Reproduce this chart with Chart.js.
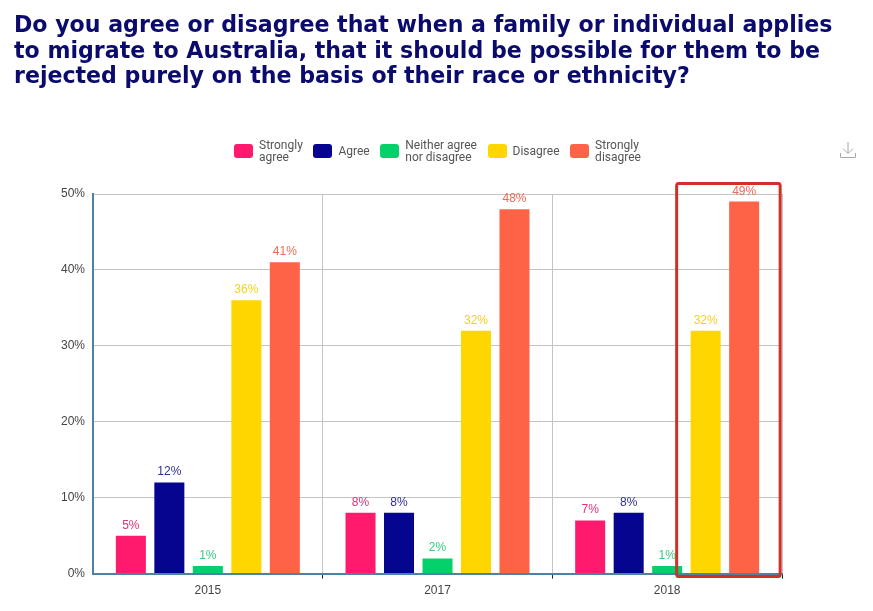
<!DOCTYPE html>
<html>
<head>
<meta charset="utf-8">
<title>Race or ethnicity</title>
<script src="https://cdn.jsdelivr.net/npm/chart.js@4"></script>
<style>
  html, body { margin: 0; padding: 0; background: #fff; width: 873px; height: 611px; overflow: hidden; }
  h1 { position: absolute; left: 14px; top: 12px; width: 850px; margin: 0; font: bold 22.1px/25.7px "DejaVu Sans", sans-serif; color: #0b0b6e; }
  #wrap { position: absolute; left: 0; top: 0; width: 873px; height: 611px; }
  #dl { position: absolute; left: 839px; top: 141px; }
  #legend { position: absolute; left: 234px; top: 139px; height: 24px; display: flex; align-items: center; font: 12px/12px Roboto, sans-serif; color: #555; }
  #legend .item { display: flex; align-items: center; margin-right: 10.6px; white-space: nowrap; }
  #legend .box { width: 19px; height: 14px; border-radius: 3px; margin-right: 6px; }
</style>
</head>
<body>
<div id="wrap"><canvas id="chart" width="873" height="611"></canvas></div>
<h1>Do you agree or disagree that when a family or individual applies to migrate to Australia, that it should be possible for them to be rejected purely on the basis of their race or ethnicity?</h1>
<div id="legend"></div>
<svg id="dl" width="18" height="18" viewBox="0 0 18 18" fill="none" stroke="#a8a8a8" stroke-width="1">
  <path d="M9 1V12M4 7.5L9 12.5L14 7.5M1.5 12V16.5H16.5V12"/>
</svg>
<script>
const years = ['2015', '2017', '2018'];
const stronglyAgree = [5, 8, 7];
const agree = [12, 8, 8];
const neither = [1, 2, 1];
const disagree = [36, 32, 32];
const stronglyDisagree = [41, 48, 49];
const yTicks = [0, 10, 20, 30, 40, 50];

const seriesNames = [['Strongly', 'agree'], ['Agree'], ['Neither agree', 'nor disagree'], ['Disagree'], ['Strongly', 'disagree']];
const seriesColors = ['#ff1a6e', '#05058f', '#05d16a', '#ffd600', '#ff6347'];
const labelColors = ['#e0307a', '#2f2f8f', '#2ecf7f', '#f5d21f', '#ef6a50'];
const seriesValues = [stronglyAgree, agree, neither, disagree, stronglyDisagree];

// percent labels above each bar
const barLabels = {
    id: 'barLabels',
    afterDatasetsDraw( chart )
    {
        let ctx = chart.ctx;
        ctx.save();
        ctx.font = '12px "Liberation Sans", Arial, sans-serif';
        ctx.textAlign = 'center';
        ctx.textBaseline = 'alphabetic';
        chart.data.datasets.forEach( function ( ds, i )
        {
            chart.getDatasetMeta( i ).data.forEach( function ( bar, j )
            {
                ctx.fillStyle = labelColors[ i ];
                ctx.fillText( ds.data[ j ] + '%', bar.x, bar.y - 7 );
            } );
        } );
        ctx.restore();
    }
};

// red box round the last two bars of 2018
const highlightBox = {
    id: 'highlightBox',
    afterDraw( chart )
    {
        let ctx = chart.ctx;
        let first = chart.getDatasetMeta( 3 ).data[ 2 ];
        let last = chart.getDatasetMeta( 4 ).data[ 2 ];
        let left = first.x - 29;
        let right = last.x + 36;
        let top = chart.scales.y.getPixelForValue( 50 ) - 10.5;
        let bottom = chart.scales.y.getPixelForValue( 0 ) + 3;
        ctx.save();
        ctx.strokeStyle = '#cf3027';
        ctx.lineWidth = 3;
        ctx.beginPath();
        ctx.roundRect( left, top, right - left, bottom - top, 2 );
        ctx.stroke();
        ctx.restore();
    }
};

let chart = new Chart( document.getElementById( 'chart' ), {
    type: 'bar',
    data: {
        labels: years,
        datasets: seriesValues.map( function ( values, i )
        {
            return {
                label: seriesNames[ i ].join( ' ' ),
                data: values,
                backgroundColor: seriesColors[ i ],
                categoryPercentage: 0.838,
                barPercentage: 0.78
            };
        } )
    },
    options: {
        responsive: false,
        animation: false,
        layout: { padding: { left: 53, right: 91, top: 194, bottom: 8 } },
        plugins: {
            tooltip: { enabled: false },
            legend: { display: false }
        },
        scales: {
            x: {
                border: { color: '#4f81a3', width: 2 },
                grid: {
                    color: '#c4c4c4',
                    tickLength: 5,
                    tickColor: function ( context )
                    {
                        return context.index === 0 ? 'transparent' : '#222';
                    }
                },
                ticks: {
                    color: '#444',
                    padding: 5,
                    font: { family: '"Liberation Sans"', size: 12 }
                }
            },
            y: {
                min: 0,
                max: 50,
                afterBuildTicks( axis )
                {
                    axis.ticks = yTicks.map( function ( v ) { return { value: v }; } );
                },
                border: { color: '#4f81a3', width: 2 },
                grid: { color: '#c4c4c4', drawTicks: false },
                ticks: {
                    color: '#444',
                    padding: 8,
                    font: { family: '"Liberation Sans"', size: 12 },
                    callback: function ( value ) { return value + '%'; }
                }
            }
        }
    },
    plugins: [ barLabels, highlightBox ]
} );

// legend with two line labels, the built in one spaces these badly
let legendEl = document.getElementById( 'legend' );
chart.data.datasets.forEach( function ( ds, i )
{
    let item = document.createElement( 'div' );
    item.className = 'item';
    let box = document.createElement( 'div' );
    box.className = 'box';
    box.style.backgroundColor = ds.backgroundColor;
    let text = document.createElement( 'div' );
    seriesNames[ i ].forEach( function ( line )
    {
        let row = document.createElement( 'div' );
        row.textContent = line;
        text.appendChild( row );
    } );
    item.appendChild( box );
    item.appendChild( text );
    legendEl.appendChild( item );
} );
</script>
</body>
</html>
